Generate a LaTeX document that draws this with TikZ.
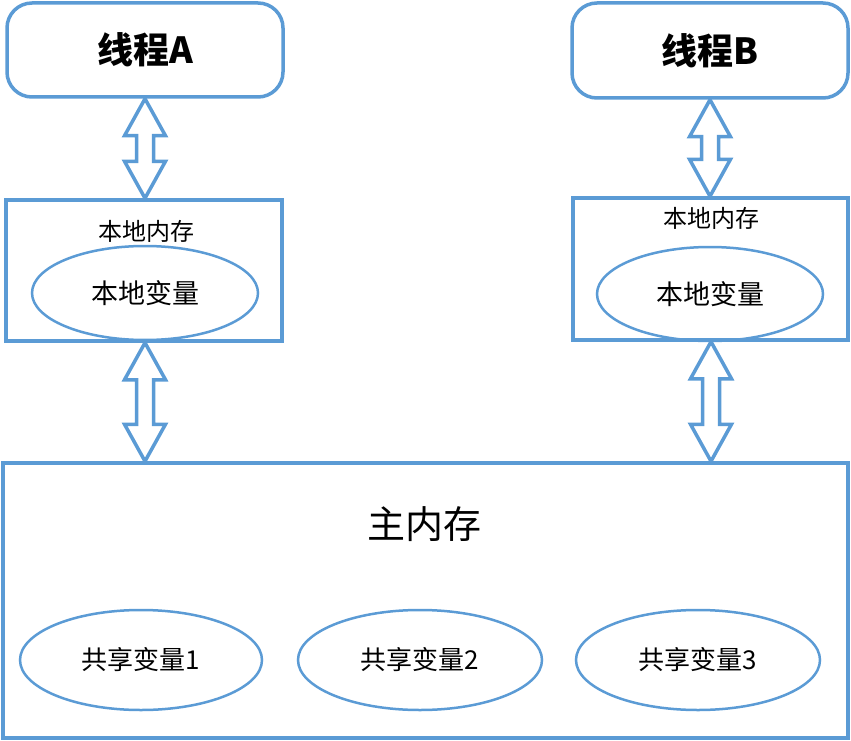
\documentclass[tikz,border=0pt]{standalone}
\usepackage{fontspec}
\newfontfamily\cjk{Noto Sans CJK SC}
\usetikzlibrary{calc,shapes.geometric}
\definecolor{bl}{RGB}{91,155,213}
\tikzset{
  box/.style={draw=bl,line width=3.5pt,inner sep=0pt},
  oval/.style={draw=bl,line width=2.5pt,ellipse,inner sep=0pt},
  txt/.style={font=\cjk,text=black,inner sep=0pt},
  dblarr/.style={draw=bl,line width=3.5pt,fill=white,line join=miter}
}
\newcommand{\dblarrow}[2]{%
  \draw[dblarr] (#1) -- ($(#1)+(20.5,37)$) -- ($(#1)+(8.5,37)$) -- ($(#2)+(8.5,-37)$) -- ($(#2)+(20.5,-37)$) -- (#2)
    -- ($(#2)+(-20.5,-37)$) -- ($(#2)+(-8.5,-37)$) -- ($(#1)+(-8.5,37)$) -- ($(#1)+(-20.5,37)$) -- cycle;}
\begin{document}
\begin{tikzpicture}[x=1pt,y=-1pt]
\useasboundingbox (0,0) rectangle (851,741);
% threads
\node[box,rounded corners=25pt,minimum width=276pt,minimum height=94pt] (tA) at (145,50) {};
\node[txt,font=\cjk\bfseries\fontsize{36}{40}\selectfont] at (tA) {线程A};
\node[box,rounded corners=25pt,minimum width=276pt,minimum height=95pt] (tB) at (710,50.5) {};
\node[txt,font=\cjk\bfseries\fontsize{36}{40}\selectfont] at (tB) {线程B};
% local memories
\node[box,minimum width=276pt,minimum height=141pt] (lA) at (144,270.5) {};
\node[txt,font=\cjk\fontsize{24}{28}\selectfont] (lAt) at (146,231) {本地内存};
\node[oval,minimum width=226pt,minimum height=94pt] (vA) at (145,293) {};
\node[txt,font=\cjk\fontsize{27}{30}\selectfont] at (vA) {本地变量};
\node[box,minimum width=275pt,minimum height=142pt] (lB) at (710.5,269) {};
\node[txt,font=\cjk\fontsize{24}{28}\selectfont] (lBt) at (711,218) {本地内存};
\node[oval,minimum width=226pt,minimum height=94pt] (vB) at (710,294) {};
\node[txt,font=\cjk\fontsize{27}{30}\selectfont] at (vB) {本地变量};
% main memory
\node[box,minimum width=845pt,minimum height=275pt] (mm) at (425.5,600.5) {};
\node[txt,font=\cjk\fontsize{38}{42}\selectfont] at (424,524) {主内存};
\node[oval,minimum width=242pt,minimum height=100pt] (s1) at (141,660) {};
\node[txt,font=\cjk\fontsize{26}{30}\selectfont] at (s1) {共享变量1};
\node[oval,minimum width=244pt,minimum height=100pt] (s2) at (420,660) {};
\node[txt,font=\cjk\fontsize{26}{30}\selectfont] at (s2) {共享变量2};
\node[oval,minimum width=244pt,minimum height=100pt] (s3) at (698,660) {};
\node[txt,font=\cjk\fontsize{26}{30}\selectfont] at (s3) {共享变量3};
% arrows
\coordinate (a1t) at (tA.south -| 145,0);
\coordinate (a1b) at (lA.north -| 145,0);
\coordinate (a2t) at (tB.south -| 710,0);
\coordinate (a2b) at (lB.north -| 710,0);
\coordinate (a3t) at (lA.south -| 145,0);
\coordinate (a3b) at (mm.north -| 145,0);
\coordinate (a4t) at (lB.south -| 711,0);
\coordinate (a4b) at (mm.north -| 711,0);
\dblarrow{a1t}{a1b}
\dblarrow{a2t}{a2b}
\dblarrow{a3t}{a3b}
\dblarrow{a4t}{a4b}
\end{tikzpicture}
\end{document}
